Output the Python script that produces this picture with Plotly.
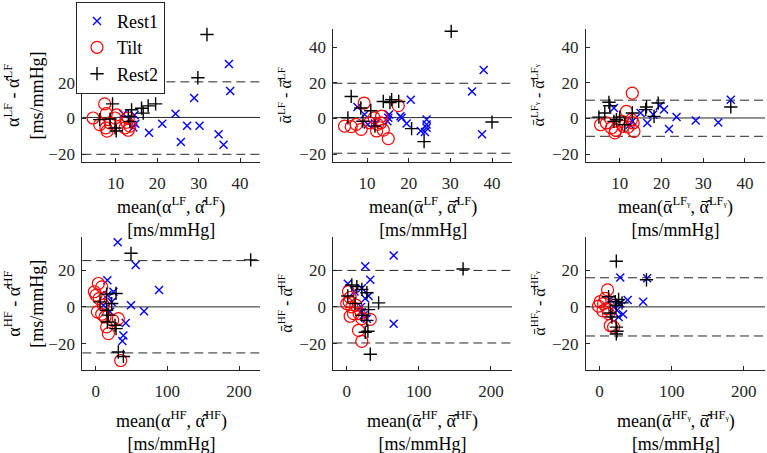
import plotly.graph_objects as go

# ---------------- data ----------------
# Panel 1: LF, alpha vs alpha-hat
P1_REST1 = [(37.3, 30.6), (37.6, 15.5), (28.9, 11.5), (24.4, 2.7), (21.2, -2.9), (18.0, -8.0),
            (25.7, -13.2), (27.2, -4.0), (30.2, -4.0), (34.8, -8.8), (36.0, -14.8),
            (14.5, 2.0), (14.7, -3.0), (14.2, -5.0), (11.8, 2.5)]
P1_TILT = [(4.5, 0.3), (7.3, 8.2), (7.7, 2.7), (6.1, -3.4), (7.6, -5.3), (8.6, -2.5), (9.8, 0.3),
           (10.2, 2.1), (12.6, -2.1), (12.2, -5.3), (13.0, 0.3), (13.4, -4.3), (7.9, -7.1), (13.0, -6.6)]
P1_REST2 = [(32.0, 47.2), (29.8, 22.9), (19.6, 8.2), (17.8, 7.1), (16.2, 5.8), (16.6, 3.0),
            (13.8, 4.9), (9.2, 8.2), (6.1, -0.6), (8.6, -0.3), (9.8, -5.3), (10.1, -7.0),
            (13.0, 1.2), (13.4, -1.6)]

# Panel 2: LF, alpha-bar vs alpha-bar-hat
P2_REST1 = [(38.0, 27.2), (35.2, 15.2), (37.6, -8.9), (20.5, 10.6), (18.0, 1.3), (18.3, 0.4),
            (19.5, -2.8), (15.3, 2.2), (15.1, 0.4), (14.9, -1.5), (22.9, -7.0), (24.3, -0.6),
            (24.3, -3.3), (24.3, -5.2), (23.9, -7.6), (7.7, 6.5), (9.4, 2.2), (10.2, -3.3), (11.9, -2.8)]
P2_TILT = [(9.3, 8.7), (17.5, 7.2), (4.6, -4.3), (6.2, -4.6), (7.4, -3.3), (8.6, -6.1), (10.6, -2.4),
           (11.7, 0.4), (12.5, -3.3), (12.3, -7.0), (13.5, 1.3), (13.9, -6.5), (15.1, -11.3), (13.3, -2.4)]
P2_REST2 = [(30.2, 49.0), (6.2, 12.4), (5.4, 0.4), (8.5, 5.9), (10.9, 4.4), (13.9, 9.6), (15.9, 10.6),
            (17.6, 9.6), (9.0, -1.5), (11.9, -4.3), (20.7, -5.7), (23.7, -13.0), (40.0, -2.0), (15.5, 9.0)]

# Panel 3: LF-gamma
P3_REST1 = [(36.6, 10.6), (33.6, -2.2), (28.2, -1.1), (23.6, 0.8), (21.8, -5.9), (20.6, 5.0),
            (19.6, 7.2), (18.0, 2.2), (16.6, -2.5), (15.0, 3.1), (13.0, -1.6), (8.6, 5.9), (12.4, -3.5)]
P3_TILT = [(13.0, 14.3), (11.6, 4.0), (5.4, -3.5), (6.8, -2.5), (8.0, -5.3), (8.8, -8.1), (9.0, -6.6),
           (10.4, -1.6), (10.8, -4.4), (13.2, -2.5), (13.4, -7.2), (12.0, -4.8), (12.8, -0.6)]
P3_REST2 = [(36.6, 6.5), (19.2, 8.7), (18.2, 1.2), (16.4, 6.5), (16.2, 5.0), (7.4, 9.1), (7.6, 7.2),
            (6.4, 3.1), (5.0, 0.8), (9.2, -0.7), (10.0, 0.8), (11.2, -3.5), (13.0, 3.1), (8.6, -1.6)]

# Panel 4: HF, alpha vs alpha-hat
P4_REST1 = [(30.7, 35.1), (55.8, 22.7), (88.4, 9.1), (67.4, -2.4), (49.3, 0.9), (41.9, -8.7),
            (38.6, -15.5), (37.2, -18.5), (16.3, 14.5), (24.7, 8.2), (16.3, 6.4), (22.3, 2.7),
            (20.0, -2.7), (10.7, 0.9)]
P4_TILT = [(-1.9, 8.2), (3.7, 12.7), (8.4, 10.9), (0.5, 6.4), (4.7, 4.5), (2.3, -2.7), (8.4, -4.0),
           (10.7, 0.9), (13.0, -5.5), (15.3, -10.9), (17.7, -14.5), (31.6, -6.4), (34.9, -29.1), (23.7, -7.3)]
P4_REST2 = [(49.3, 29.1), (216.3, 25.5), (28.4, 7.3), (15.3, 6.9), (6.0, 2.7), (22.3, 1.8),
            (15.3, -1.8), (17.7, -4.5), (16.3, -8.2), (27.0, -10.0), (28.4, -11.8), (31.6, -24.5), (38.6, -26.9)]

# Panel 5: HF, alpha-bar
P5_REST1 = [(65.1, 27.9), (25.6, 22.0), (32.6, 14.7), (65.1, -9.2), (1.4, 12.5), (20.9, 10.1),
            (25.6, 4.6), (30.2, 5.9), (10.7, 8.3), (20.0, 0.0), (23.3, -4.6), (27.9, -6.4), (20.9, -2.8)]
P5_TILT = [(2.3, 8.3), (4.7, 5.1), (0.0, 1.8), (3.3, 2.8), (7.0, 0.0), (9.3, -3.7), (4.7, -5.1),
           (17.2, -3.7), (20.9, -6.4), (32.6, -6.8), (16.3, -12.8), (20.9, -18.7), (12.6, 0.9)]
P5_REST2 = [(161.4, 20.6), (44.2, 2.2), (1.4, 5.9), (7.0, 11.9), (14.0, 11.0), (20.9, 9.5),
            (27.9, 7.7), (11.6, 1.8), (30.2, -1.5), (20.9, -4.6), (27.9, -7.3), (25.6, -13.8),
            (29.3, -13.2), (32.6, -25.7)]

# Panel 6: HF-gamma
P6_REST1 = [(28.8, 16.0), (66.0, 15.6), (60.5, 2.8), (39.0, 3.7), (28.8, 1.8), (14.9, 4.0),
            (24.2, -1.8), (32.6, -4.0), (26.5, -5.5), (19.5, 0.0)]
P6_TILT = [(11.2, 9.2), (0.9, 2.8), (-1.4, 0.4), (5.6, 1.8), (4.7, -2.2), (10.2, -0.9), (12.6, -3.7),
           (14.9, -10.1), (19.5, -11.0), (7.9, 4.6)]
P6_REST2 = [(23.3, 24.8), (65.1, 14.7), (12.6, 5.5), (21.9, 2.8), (26.5, 4.0), (31.2, 2.2), (23.3, 0.9),
            (14.9, -3.3), (17.2, -5.5), (23.3, -11.0), (24.2, -13.2), (23.3, -14.7)]

# Bland-Altman lines (mean difference and limits of agreement) per panel
MEAN_DIFF = [0.6, 0.5, 0.3, 0.0, 0.0, 0.0]
UPPER_LOA = [20.6, 19.8, 10.3, 25.1, 19.8, 15.8]
LOWER_LOA = [-20.1, -19.5, -10.0, -25.0, -19.6, -15.8]

# Tick values
TOP_XTICKS = [10, 20, 30, 40]
P1_YTICKS = [-20, 0, 20]          # the 40 tick of panel 1 is hidden behind the legend
TOP_YTICKS = [-20, 0, 20, 40]
BOT_XTICKS = [0, 100, 200]
BOT_YTICKS = [-20, 0, 20]

SERIES_NAMES = ["Rest1", "Tilt", "Rest2"]

# Axis titles
A = "\u03b1"
AH = "\u03b1\u0302"            # alpha hat
AB = "\u1fb1"                  # alpha bar
ABH = "\u03b1\u0304\u0302"     # alpha bar hat
G = "\u1d67"                   # subscript gamma
UNIT = "[ms/mmHg]"
Y_TITLES = [
    f"{A}<sup>LF</sup> - {AH}<sup>LF</sup><br>{UNIT}",
    f"{AB}<sup>LF</sup> - {ABH}<sup>LF</sup>",
    f"{AB}<sup>LF{G}</sup> - {ABH}<sup>LF{G}</sup>",
    f"{A}<sup>HF</sup> - {AH}<sup>HF</sup><br>{UNIT}",
    f"{AB}<sup>HF</sup> - {ABH}<sup>HF</sup>",
    f"{AB}<sup>HF{G}</sup> - {ABH}<sup>HF{G}</sup>",
]
X_TITLES = [
    f"mean({A}<sup>LF</sup>, {AH}<sup>LF</sup>)<br>{UNIT}",
    f"mean({AB}<sup>LF</sup>, {ABH}<sup>LF</sup>)<br>{UNIT}",
    f"mean({AB}<sup>LF{G}</sup>, {ABH}<sup>LF{G}</sup>)<br>{UNIT}",
    f"mean({A}<sup>HF</sup>, {AH}<sup>HF</sup>)<br>{UNIT}",
    f"mean({AB}<sup>HF</sup>, {ABH}<sup>HF</sup>)<br>{UNIT}",
    f"mean({AB}<sup>HF{G}</sup>, {ABH}<sup>HF{G}</sup>)<br>{UNIT}",
]

PANELS = [
    (P1_REST1, P1_TILT, P1_REST2),
    (P2_REST1, P2_TILT, P2_REST2),
    (P3_REST1, P3_TILT, P3_REST2),
    (P4_REST1, P4_TILT, P4_REST2),
    (P5_REST1, P5_TILT, P5_REST2),
    (P6_REST1, P6_TILT, P6_REST2),
]

# ---------------- layout / styling ----------------
W, H = 767, 453
FONT = "Liberation Serif"
AX_COLOR = "#262626"

COL_DOM = [(82.3, 260.0), (333.3, 512.0), (586.0, 765.0)]   # px
ROW_DOM = [(29.3, 162.3), (238.3, 371.7)]                   # px from top
TOP_XRANGE = [1.9, 44.8]
TOP_YRANGE = [-24.2, 50.2]
BOT_XRANGE = [-18.7, 229.3]
BOT_YRANGE = [-34.3, 37.8]

STYLES = [
    dict(symbol="x-thin-open", size=8, color="#0000ff", line=dict(color="#0000ff", width=1.4)),
    dict(symbol="circle-open", size=12, color="#ff0000", line=dict(color="#ff0000", width=1.2)),
    dict(symbol="cross-thin-open", size=9.5, color="#000000", line=dict(color="#000000", width=1.4)),
]

fig = go.Figure()
layout = dict(
    width=W, height=H, margin=dict(l=0, r=0, t=0, b=0),
    paper_bgcolor="white", plot_bgcolor="white",
    font=dict(family=FONT, size=17, color=AX_COLOR),
    showlegend=True,
    legend=dict(x=76 / W, y=1 - 1.7 / H, xanchor="left", yanchor="top",
                bgcolor="white", bordercolor=AX_COLOR, borderwidth=1,
                font=dict(family=FONT, size=18, color="black"),
                itemwidth=30, tracegroupgap=0),
)
annotations = []
shapes = []

for i, groups in enumerate(PANELS):
    n = i + 1
    row, col = divmod(i, 3)
    xs = "" if n == 1 else str(n)
    x0p, x1p = COL_DOM[col]
    y0p, y1p = ROW_DOM[row]
    xdom = [x0p / W, x1p / W]
    ydom = [1 - y1p / H, 1 - y0p / H]
    top = row == 0
    if n == 1:
        yticks = P1_YTICKS
    else:
        yticks = TOP_YTICKS if top else BOT_YTICKS
    common = dict(showline=True, linecolor=AX_COLOR, linewidth=1, mirror=False,
                  showgrid=False, zeroline=False, ticks="inside", ticklen=4,
                  tickcolor=AX_COLOR, tickwidth=1,
                  tickfont=dict(family=FONT, size=17, color=AX_COLOR))
    layout["xaxis" + xs] = dict(domain=xdom, anchor="y" + xs,
                                range=TOP_XRANGE if top else BOT_XRANGE,
                                tickvals=TOP_XTICKS if top else BOT_XTICKS,
                                ticklabelstandoff=6, **common)
    layout["yaxis" + xs] = dict(domain=ydom, anchor="x" + xs,
                                range=TOP_YRANGE if top else BOT_YRANGE,
                                tickvals=yticks,
                                ticklabelstandoff=3, **common)

    for g, (pts, name, st) in enumerate(zip(groups, SERIES_NAMES, STYLES)):
        fig.add_trace(go.Scatter(
            x=[p[0] for p in pts], y=[p[1] for p in pts], mode="markers",
            name=name, legendgroup=name, showlegend=(n == 1),
            marker=st, xaxis="x" + xs, yaxis="y" + xs, cliponaxis=False))

    for val, dash in ((MEAN_DIFF[i], "solid"), (UPPER_LOA[i], "9px,5px"), (LOWER_LOA[i], "9px,5px")):
        shapes.append(dict(type="line", xref=f"x{xs} domain", x0=0, x1=1,
                           yref="y" + xs, y0=val, y1=val, layer="below",
                           line=dict(color=AX_COLOR, width=1, dash=dash)))

    # x-axis title (two lines)
    xc = (x0p + x1p) / 2
    xt_y = 218 if top else 432.5
    annotations.append(dict(text=X_TITLES[i], xref="paper", yref="paper",
                            x=xc / W, y=1 - xt_y / H, xanchor="center", yanchor="middle",
                            showarrow=False, font=dict(family=FONT, size=18, color="black")))
    # y-axis title (rotated)
    yc = (y0p + y1p) / 2
    yt_x = 24 if col == 0 else (285 if col == 1 else 538)
    annotations.append(dict(text=Y_TITLES[i], xref="paper", yref="paper",
                            x=yt_x / W, y=1 - yc / H, xanchor="center", yanchor="middle",
                            textangle=-90, showarrow=False,
                            font=dict(family=FONT, size=18 if col == 0 else 16, color="black")))

layout["annotations"] = annotations
layout["shapes"] = shapes
fig.update_layout(**layout)
fig.write_html("out.html", config={"displayModeBar": False},
               post_script="document.body.style.margin='0';document.body.style.padding='0';")
